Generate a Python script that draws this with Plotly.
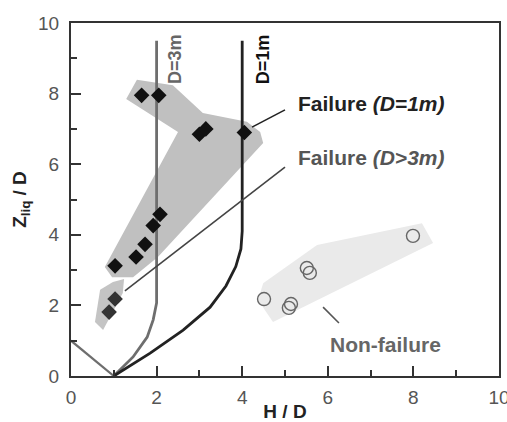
import plotly.graph_objects as go

# Observed cases: normalised wall height H/D vs liquefied depth Zliq/D
fail_d1_x = [1.65, 2.05, 3.0, 3.15, 4.05, 1.03, 1.52, 1.73, 1.92, 2.08]
fail_d1_y = [7.95, 7.95, 6.85, 7.0, 6.9, 3.12, 3.37, 3.73, 4.26, 4.58]

fail_d3_x = [1.03, 0.89]
fail_d3_y = [2.18, 1.81]

nonfail_x = [4.51, 5.09, 5.14, 5.51, 5.58, 7.99]
nonfail_y = [2.18, 1.93, 2.04, 3.06, 2.92, 3.97]

# Shaded envelopes around each group
env_d1_x = [1.29, 1.54, 2.38, 3.08, 4.11, 4.42, 4.49, 2.03, 1.45, 0.96, 0.79, 2.50, 1.29]
env_d1_y = [7.85, 8.39, 8.24, 7.45, 7.20, 6.91, 6.60, 3.37, 2.80, 2.80, 3.09, 6.91, 7.85]

env_d3_x = [0.98, 1.24, 1.21, 0.75, 0.56, 0.68, 0.98]
env_d3_y = [2.66, 2.75, 2.35, 1.30, 1.53, 2.44, 2.66]

env_nf_x = [8.20, 8.46, 4.72, 4.37, 4.49, 5.75, 8.20]
env_nf_y = [4.33, 3.77, 1.53, 2.15, 2.63, 3.71, 4.33]

# Boundary curves for D=3m and D=1m
bnd_d3_x = [1.0, 1.45, 1.78, 1.92, 2.0, 2.0]
bnd_d3_y = [0.0, 0.54, 1.10, 1.59, 2.07, 9.5]

bnd_d1_x = [1.0, 1.85, 2.62, 3.25, 3.62, 3.85, 3.97, 4.0, 4.0]
bnd_d1_y = [0.0, 0.65, 1.30, 1.95, 2.55, 3.10, 3.60, 4.10, 9.5]

base_x = [0.0, 1.0]
base_y = [1.0, 0.0]

# Leader lines from labels to groups
lead_d1_x = [4.23, 5.0]
lead_d1_y = [7.05, 7.54]
lead_d3_x = [1.26, 5.0]
lead_d3_y = [2.41, 5.92]
lead_nf_x = [5.89, 6.26]
lead_nf_y = [1.95, 1.50]

FONT = "Liberation Sans, Arial, sans-serif"

fig = go.Figure()

for ex, ey, col in [(env_d1_x, env_d1_y, "#c0c0c0"),
                    (env_d3_x, env_d3_y, "#c4c4c4"),
                    (env_nf_x, env_nf_y, "#eaeaea")]:
    fig.add_trace(go.Scatter(x=ex, y=ey, mode="lines", fill="toself",
                             fillcolor=col, line=dict(width=0),
                             hoverinfo="skip", showlegend=False))

fig.add_trace(go.Scatter(x=base_x, y=base_y, mode="lines",
                         line=dict(color="#6e6e6e", width=2.2), showlegend=False))
fig.add_trace(go.Scatter(x=bnd_d3_x, y=bnd_d3_y, mode="lines",
                         line=dict(color="#6e6e6e", width=2.8), showlegend=False))
fig.add_trace(go.Scatter(x=bnd_d1_x, y=bnd_d1_y, mode="lines",
                         line=dict(color="#222222", width=2.8), showlegend=False))

for lx, ly, col in [(lead_d1_x, lead_d1_y, "#222222"),
                    (lead_d3_x, lead_d3_y, "#444444"),
                    (lead_nf_x, lead_nf_y, "#555555")]:
    fig.add_trace(go.Scatter(x=lx, y=ly, mode="lines",
                             line=dict(color=col, width=1.6), showlegend=False))

fig.add_trace(go.Scatter(x=fail_d1_x, y=fail_d1_y, mode="markers",
                         marker=dict(symbol="diamond", size=12, color="#111111"),
                         showlegend=False))
fig.add_trace(go.Scatter(x=fail_d3_x, y=fail_d3_y, mode="markers",
                         marker=dict(symbol="diamond", size=12, color="#333333"),
                         showlegend=False))
fig.add_trace(go.Scatter(x=nonfail_x, y=nonfail_y, mode="markers",
                         marker=dict(symbol="circle-open", size=13,
                                     color="#666666", line=dict(width=1.4)),
                         showlegend=False))

annos = [
    dict(x=2.43, y=8.98, text="<b>D=3m</b>", textangle=-90,
         font=dict(size=18, color="#666666")),
    dict(x=4.49, y=8.98, text="<b>D=1m</b>", textangle=-90,
         font=dict(size=18, color="#111111")),
    dict(x=5.26, y=7.73, text="<b>Failure <i>(D=1m)</i></b>", xanchor="left",
         font=dict(size=21, color="#222222")),
    dict(x=5.26, y=6.2, text="<b>Failure <i>(D>3m)</i></b>", xanchor="left",
         font=dict(size=21, color="#555555")),
    dict(x=6.0, y=0.88, text="<b>Non-failure</b>", xanchor="left",
         font=dict(size=21, color="#666666")),
]
for a in annos:
    fig.add_annotation(xref="x", yref="y", showarrow=False, **a)

axis_common = dict(
    showgrid=False, zeroline=False, showline=True, linecolor="#333333",
    linewidth=2, mirror=True, ticks="inside", ticklen=10, tickwidth=1.5,
    tickcolor="#333333", dtick=2, automargin=False,
    ticklabeloverflow="allow",
    minor=dict(ticks="inside", ticklen=6, tickwidth=1.5, dtick=1,
               tickcolor="#333333"),
    tickfont=dict(size=19, color="#555555", family=FONT),
)

fig.update_xaxes(range=[0, 10], tick0=0, ticklabelstandoff=3,
                 title=dict(text="<b>H / D</b>", standoff=4,
                            font=dict(size=19, color="#222222", family=FONT)),
                 **axis_common)
fig.update_yaxes(range=[0, 10], tick0=0, ticklabelstandoff=6,
                 title=dict(text="<b>Z<sub>liq</sub> / D</b>", standoff=6,
                            font=dict(size=19, color="#222222", family=FONT)),
                 **axis_common)

fig.update_layout(
    width=507, height=422,
    margin=dict(l=71, r=8, t=23, b=46),
    plot_bgcolor="white", paper_bgcolor="white",
    font=dict(family=FONT),
)

fig.write_html("out.html")
